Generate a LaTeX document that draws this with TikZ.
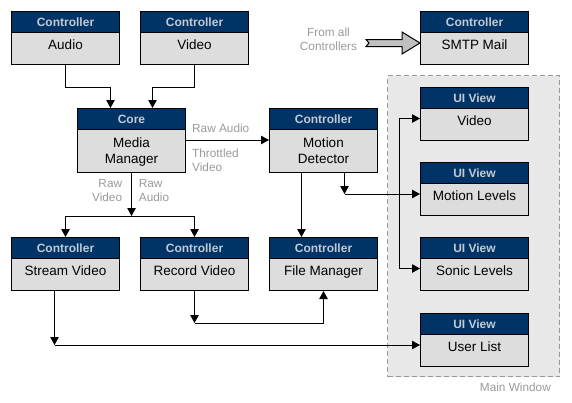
\documentclass[tikz,border=0pt]{standalone}
\usepackage{fontspec}
\setmainfont{Liberation Sans}
\usetikzlibrary{arrows.meta,calc}
\definecolor{hdrblue}{HTML}{003366}
\definecolor{hdrtext}{HTML}{C4CAD4}
\definecolor{bodygray}{HTML}{DDDDDD}
\definecolor{wingray}{HTML}{E8E8E8}
\definecolor{winline}{HTML}{999999}
\definecolor{labgray}{HTML}{999999}
\definecolor{bigarrow}{HTML}{C0C0C0}
\begin{document}
\begin{tikzpicture}[x=1pt,y=-1pt,
  hdr/.style={draw=black, line width=1pt, fill=hdrblue, text=hdrtext,
    font=\bfseries\fontsize{12}{14}\selectfont, minimum width=108, minimum height=21,
    inner sep=0, anchor=north west, text height=8.6, text depth=0},
  bodyone/.style={draw=black, line width=1pt, fill=bodygray,
    font=\fontsize{13.5}{16}\selectfont, minimum width=108, minimum height=32,
    inner sep=0, anchor=north west, text height=9.5, text depth=7, align=center},
  bodytwo/.style={bodyone, minimum height=43, text height=25.5, text depth=0.5},
  lab/.style={text=labgray, font=\fontsize{11.8}{14.5}\selectfont, inner sep=0},
  conn/.style={draw=black, line width=1pt, -{Triangle[width=8.5pt,length=8pt]}},
  plain/.style={draw=black, line width=1pt}
]
\useasboundingbox (0,0) rectangle (572,402);
% main window
\node[draw=winline, dashed, dash pattern=on 5pt off 3pt, fill=wingray, line width=1pt,
  minimum width=172, minimum height=301, inner sep=0, anchor=north west] (mainwin) at (387,75) {};
\node[lab, anchor=base east] (mainwinlab) at (551,391) {Main Window};

% top row
\node[hdr] (audioH) at (11,11) {Controller};
\node[bodyone] (audio) at (11,32) {Audio};
\node[hdr] (videoCH) at (140,11) {Controller};
\node[bodyone] (videoC) at (140,32) {Video};
\node[hdr] (smtpH) at (420,11) {Controller};
\node[bodyone] (smtp) at (420,32) {SMTP Mail};

% middle row
\node[hdr] (coreH) at (77,108) {Core};
\node[bodytwo] (core) at (77,129) {Media\\Manager};
\node[hdr] (motionH) at (269,108) {Controller};
\node[bodytwo] (motion) at (269,129) {Motion\\Detector};

% bottom row
\node[hdr] (streamH) at (11,237) {Controller};
\node[bodyone] (stream) at (11,258) {Stream Video};
\node[hdr] (recordH) at (140,237) {Controller};
\node[bodyone] (record) at (140,258) {Record Video};
\node[hdr] (fileH) at (269,237) {Controller};
\node[bodyone] (file) at (269,258) {File Manager};

% UI views
\node[hdr] (uivH) at (420,87) {UI View};
\node[bodyone] (uiv) at (420,108) {Video};
\node[hdr] (mlevH) at (420,162) {UI View};
\node[bodyone] (mlev) at (420,183) {Motion Levels};
\node[hdr] (slevH) at (420,237) {UI View};
\node[bodyone] (slev) at (420,258) {Sonic Levels};
\node[hdr] (ulistH) at (420,313) {UI View};
\node[bodyone] (ulist) at (420,334) {User List};

% labels
\node[lab, anchor=base west] (rawaudio1) at (192,132.7) {Raw Audio};
\node[lab, anchor=north west, align=left] (throttled) at (192,148.3) {Throttled\\Video};
\node[lab, anchor=north east, align=right] (rawvideo) at (122.3,179) {Raw\\Video};
\node[lab, anchor=north west, align=left] (rawaudio2) at (138.7,179) {Raw\\Audio};
\node[lab, anchor=north, align=center] (fromall) at (328.5,27.6) {From all\\Controllers};

% connectors
\draw[conn] (audio.south) -- ++(0,22) -| ([xshift=-21pt]coreH.north);
\draw[conn] (videoC.south) -- ++(0,22) -| ([xshift=21pt]coreH.north);

\coordinate (cm) at ($(core.north east)+(0,11)$);
\draw[conn] (cm) -- (cm -| motion.west);

\draw[conn] (core.south) -- ++(0,43) coordinate (corebus);
\draw[conn] (corebus) -| (streamH.north);
\draw[conn] (corebus) -| (recordH.north);

\draw[conn] ([xshift=-22pt]motion.south) -- ([xshift=-22pt]fileH.north);
\draw[conn] ([xshift=21pt]motion.south) -- ++(0,21) coordinate (mdj);
\draw[conn] (mdj) -- (mdj -| mlev.west);
\coordinate (vbus) at ($(mdj -| mlev.west)+(-21,0)$);
\coordinate (uivT) at ($(uiv.north west)+(0,10.5)$);
\coordinate (slevT) at ($(slev.north west)+(0,10.5)$);
\draw[conn] (vbus) |- (uivT);
\draw[conn] (vbus) |- (slevT);

\draw[conn] ([xshift=-11pt]stream.south) -- ++(0,54) coordinate (sj);
\draw[conn] (sj) -- (sj -| ulist.west);

\draw[conn] (record.south) -- ++(0,32) coordinate (rj);
\draw[conn] (rj) -| (file.south);

% big arrow from all controllers
\coordinate (smtpT) at ($(smtp.north west)+(0,11)$);
\draw[line width=1pt, fill=bigarrow, line join=miter]
  (smtpT) -- ++(-18,-11) -- ++(0,7.5) -- ++(-36,0) -- ++(3,3.5) -- ++(-3,3.5)
  -- ++(36,0) -- ++(0,7.5) -- cycle;
\end{tikzpicture}
\end{document}
